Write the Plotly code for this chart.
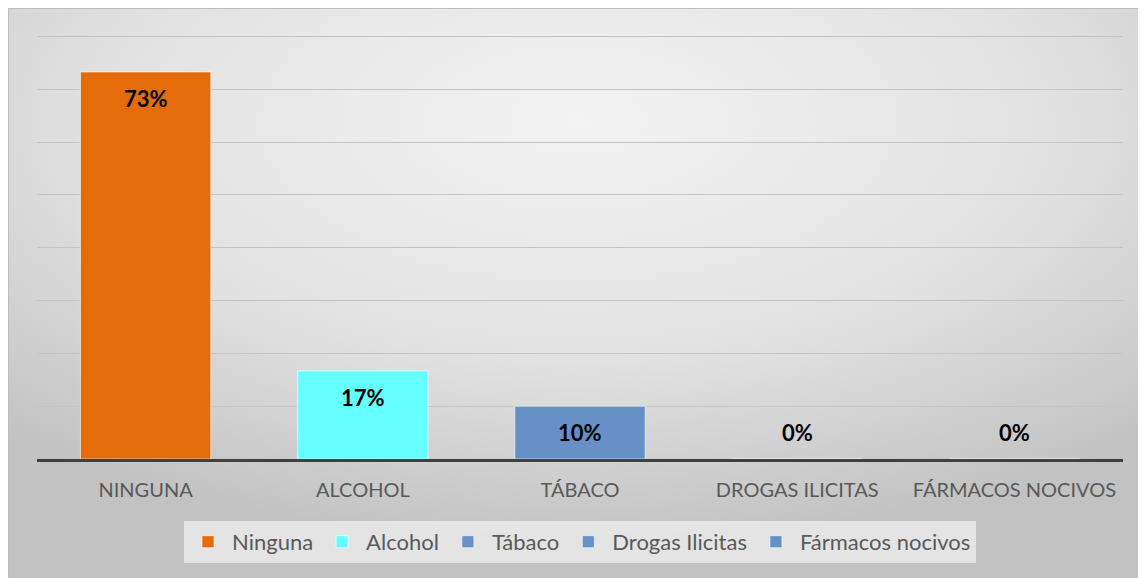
import base64
import plotly.graph_objects as go

categories = ["NINGUNA", "ALCOHOL", "TÁBACO", "DROGAS ILICITAS", "FÁRMACOS NOCIVOS"]
series_names = ["Ninguna", "Alcohol", "Tábaco", "Drogas Ilicitas", "Fármacos nocivos"]
values = [73.3, 16.7, 10, 0, 0]
labels = ["73%", "17%", "10%", "0%", "0%"]
colors = ["#E46C0A", "#66FFFF", "#6690C6", "#6690C6", "#6690C6"]

W, H = 1138, 570
ml, mr, mt, mb = 29, 23, 27, 119
pw, ph = W - ml - mr, H - mt - mb

svg = f'''<svg xmlns="http://www.w3.org/2000/svg" width="{W}" height="{H}" viewBox="0 0 {W} {H}" preserveAspectRatio="none">
<defs><radialGradient id="g" cx="50%" cy="20%" r="75%" gradientUnits="objectBoundingBox">
<stop offset="0" stop-color="#f3f3f3"/><stop offset="0.55" stop-color="#e2e2e2"/><stop offset="1" stop-color="#c2c2c2"/>
</radialGradient></defs>
<rect x="0" y="0" width="{W}" height="{H}" fill="url(#g)"/>
<line x1="0" y1="0.5" x2="{W}" y2="0.5" stroke="#bdbdbd" stroke-width="1"/>
<line x1="0.5" y1="0" x2="0.5" y2="{H}" stroke="#bdbdbd" stroke-width="1"/>
</svg>'''
src = "data:image/svg+xml;base64," + base64.b64encode(svg.encode()).decode()

FONT = "Lato, Noto Sans, sans-serif"

fig = go.Figure()
for name, cat, v, c in zip(series_names, categories, values, colors):
    fig.add_trace(go.Bar(
        x=[cat], y=[v], name=name, width=0.6,
        marker=dict(color=c, line=dict(color="rgba(255,255,255,0.6)", width=1)),
        hoverinfo="skip",
    ))

for cat, v, t in zip(categories, values, labels):
    fig.add_annotation(
        x=cat, y=v - 5 if v > 10 else 5, text=t, showarrow=False,
        font=dict(family=FONT, size=22, color="#000000", weight="bold"),
        xref="x", yref="y",
    )

fig.update_layout(
    width=W, height=H,
    margin=dict(l=ml, r=mr, t=mt, b=mb, pad=0),
    paper_bgcolor="rgba(0,0,0,0)",
    plot_bgcolor="rgba(0,0,0,0)",
    barmode="overlay",
    showlegend=True,
    font=dict(family=FONT, color="#595959"),
    legend=dict(
        orientation="h", x=0.5, xanchor="center", y=-0.146, yanchor="top",
        bgcolor="rgba(232,232,232,0.9)", font=dict(size=22, color="#595959"),
        itemwidth=38, traceorder="normal",
    ),
    xaxis=dict(
        type="category", categoryorder="array", categoryarray=categories,
        showgrid=False, showline=True, linecolor="#404040", linewidth=3,
        ticks="outside", ticklen=11, tickcolor="rgba(0,0,0,0)",
        tickfont=dict(size=20, color="#595959"), zeroline=False,
    ),
    yaxis=dict(
        range=[0, 80.3], dtick=10, showticklabels=False, showgrid=True,
        gridcolor="#c4c4c4", gridwidth=1, zeroline=False, showline=False,
    ),
    images=[dict(
        source=src, xref="paper", yref="paper",
        x=-ml / pw, y=1 + mt / ph, sizex=W / pw, sizey=H / ph,
        xanchor="left", yanchor="top", sizing="stretch", layer="below",
    )],
)

fig.write_html("out.html")
